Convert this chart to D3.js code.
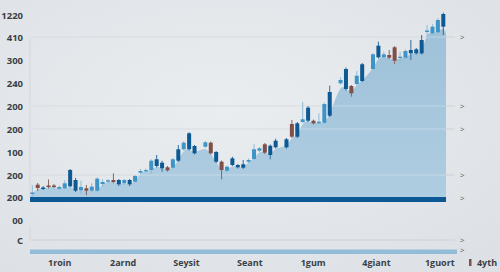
<!DOCTYPE html>
<html>
<head>
<meta charset="utf-8">
<script src="https://cdn.jsdelivr.net/npm/d3@7"></script>
<style>
  html, body { margin: 0; padding: 0; background: #e4e7ea; }
  svg { display: block; font-family: "Open Sans", "DejaVu Sans", sans-serif; }
</style>
</head>
<body>
<svg id="chart" width="500" height="272"></svg>
<script>
// Candle data (trading days, some days missing)
const days   = [0,1,2,3,4,5,6,7,8,9,10,11,12,13,14,15,16,17,18,19,20,21,22,23,24,25,26,27,28,29,30,32,33,34,35,36,37,38,39,40,41,42,43,44,45,47,48,49,50,51,52,53,54,55,57,58,59,60,61,63,64,65,66,67,68,69,70,71,72,73,74,75,76]
const opens  = [48,57.3,53,56.5,56.5,53.3,53.7,55.7,51.3,51.7,53.7,51.3,51.3,58,60.3,62,57.7,58.7,57.7,60.3,69.3,70.7,72,76,73.7,74.7,74.3,81.3,92.7,92.7,88.7,95.3,99.3,80.3,80.3,71.3,77,74.7,74.3,80.3,83,91.3,97.7,87,94.7,94.7,118,105.3,120,121.3,121.3,118.7,119.3,126.3,158.7,153,156,158,161,173,184.7,184.7,187,194.7,184,184.3,188.7,188.7,188.7,210,208.7,209.7,215.3]
const closes = [49.5,54,54.5,55,55,55,58.7,72,62,55,51.3,55.3,63.3,60,61.7,60,62,62,62,66,71,72,81.3,82.7,79.3,71.7,82.7,92.7,99.3,108.7,96,99.7,88.7,90,72,75.3,83.7,77,77.7,82,92.7,93.7,89.3,96.3,101.3,102.7,105.3,118.7,122.7,134.3,118.7,120.3,138,150,162,173,148.7,166.3,177.7,187.7,196.3,187.7,184.3,181.3,185.3,191,192,192.7,202,211.5,215.3,222,228]
const highs  = [57,59,56,62.5,58,56.5,61.7,73,64,61.3,57,58.7,64.7,62.7,63,68.7,63,63,63,67,73,73.5,82.7,87,81.3,76,84,97,101,109.7,97,101,100.5,91,81.5,76.5,85.3,78,82,83.5,98,95,99,97.5,103.3,104,122,120,140,136,122.5,128.7,139.5,156.3,164.7,174.5,157,171,179,189,200.3,190.3,192,196,190.3,192.5,202,194,207,217,217.7,223.7,229.3]
const lows   = [45,51,52,53.5,54,52,52.5,54.5,50,48,46.7,50,50,55.3,59,58.7,56,57,56,59,68,69.5,68,74.5,70.3,70.5,73,80,91.5,91.5,87.5,94,87.5,79,62.7,69.5,76,73.5,73,79,82,90,88,82.7,93.5,93.5,104,104,119,120,117.5,117.5,118,125,157.5,151.5,145.3,157,160,172,183.5,183.5,183,178,178.7,183,182,187.5,187.5,205,207.5,208.5,207]
// candle group: 0 = dark, 1 = light, 2 = falling
const groups = [1,2,0,2,2,1,1,0,0,1,2,1,1,1,1,2,0,1,0,1,1,1,1,0,0,2,1,0,1,0,0,1,2,0,2,1,0,0,0,1,1,1,2,0,0,0,2,0,1,0,2,1,1,0,1,0,2,1,0,1,0,1,2,2,1,1,0,0,0,1,1,1,0]

// area edges where it meets the frame
const areaStart = 46
const areaEnd = 209

// axis labels as printed
const yTickValues = [2,22,45,67,90,113,136,159,182,205,227]
const yTickLabels = ['C','00','200','200','100','200','200','240','300','410','1220']
const gridTicks = [205,136,113,67,2]
const xLabels = ['1roin','2arnd','Seysit','Seant','1gum','4giant','1guort']
const legendLabel = '4yth'

const candles = days.map((d, i) => ({
  day: d, open: opens[i], close: closes[i], high: highs[i], low: lows[i], grp: groups[i]
}))

const svg = d3.select('#chart')

// soft background
const defs = svg.append('defs')
const bg = defs.append('radialGradient').attr('id', 'bg')
  .attr('cx', '45%').attr('cy', '40%').attr('r', '75%')
bg.append('stop').attr('offset', '0%').attr('stop-color', '#eaedf0')
bg.append('stop').attr('offset', '100%').attr('stop-color', '#dde1e5')
const ag = defs.append('linearGradient').attr('id', 'areaFill')
  .attr('x1', 0).attr('y1', 0).attr('x2', 0).attr('y2', 1)
ag.append('stop').attr('offset', '0%').attr('stop-color', '#9ec1d9')
ag.append('stop').attr('offset', '100%').attr('stop-color', '#afcde1')
svg.append('rect').attr('width', 500).attr('height', 272).attr('fill', 'url(#bg)')

// scales
const x = d3.scaleLinear().domain([0, 76]).range([32.3, 443.3])
const y = d3.scaleLinear().domain([0, 227]).range([242, 15])
const xLab = d3.scalePoint().domain(xLabels).range([59.3, 439.3])
const color = d3.scaleOrdinal().domain([0, 1, 2]).range(['#0d5994', '#3d95c7', '#7f4f49'])
const wickColor = d3.scaleOrdinal().domain([0, 1, 2]).range(['#2f6d9f', '#8fbad6', '#8a6660'])

const left = 30
const areaRight = x(76.5)
const gridRight = 455

// gridlines below the area
svg.append('g')
  .selectAll('line')
  .data(gridTicks)
  .enter()
  .append('line')
  .attr('x1', left).attr('x2', gridRight)
  .attr('y1', (d) => y(d)).attr('y2', (d) => y(d))
  .attr('stroke', '#cdd2d7').attr('stroke-width', 1)

// frame edges
svg.append('line')
  .attr('x1', left).attr('x2', left).attr('y1', y(205)).attr('y2', y(45))
  .attr('stroke', '#d3d8dc')
svg.append('line')
  .attr('x1', left).attr('x2', left).attr('y1', y(16)).attr('y2', y(2))
  .attr('stroke', '#d3d8dc')

// area under the candles
const areaPts = [{ day: -0.4, v: areaStart }]
  .concat(candles.map((c) => ({ day: c.day, v: Math.min(c.open, c.close) })))
  .concat([{ day: 76.5, v: areaEnd }])
const area = d3.area()
  .x((d) => x(d.day))
  .y0(y(45))
  .y1((d) => y(d.v))
  .curve(d3.curveBasis)
svg.append('path')
  .datum(areaPts)
  .attr('d', area)
  .attr('fill', 'url(#areaFill)')

// gridlines shown over the area
svg.append('g')
  .selectAll('line')
  .data(gridTicks.filter((d) => d > 45))
  .enter()
  .append('line')
  .attr('x1', left).attr('x2', areaRight)
  .attr('y1', (d) => y(d)).attr('y2', (d) => y(d))
  .attr('stroke', '#ffffff').attr('stroke-opacity', 0.3)

// dark base band
svg.append('rect')
  .attr('x', left).attr('y', y(45))
  .attr('width', areaRight - left).attr('height', y(40) - y(45))
  .attr('fill', '#0c5894')

// navigator bar
svg.append('rect')
  .attr('x', left).attr('y', y(-7.5))
  .attr('width', 457 - left).attr('height', y(-12) - y(-7.5))
  .attr('fill', '#92bdd8')

// candles
const cg = svg.append('g')
  .selectAll('g')
  .data(candles)
  .enter()
  .append('g')

cg.append('line')
  .attr('x1', (d) => x(d.day)).attr('x2', (d) => x(d.day))
  .attr('y1', (d) => y(d.high)).attr('y2', (d) => y(d.low))
  .attr('stroke', (d) => wickColor(d.grp)).attr('stroke-width', 1)

cg.append('rect')
  .attr('x', (d) => x(d.day) - 2)
  .attr('y', (d) => y(Math.max(d.open, d.close)))
  .attr('width', 4)
  .attr('height', (d) => Math.max(1.2, Math.abs(y(d.open) - y(d.close))))
  .attr('fill', (d) => color(d.grp))

// y axis
const yAxis = svg.append('g')
  .attr('transform', 'translate(23,0)')
  .call(d3.axisLeft(y).tickValues(yTickValues).tickFormat((d, i) => yTickLabels[i]).tickSize(0).tickPadding(0))
yAxis.select('.domain').remove()
yAxis.selectAll('text')
  .attr('font-size', 9.5).attr('font-weight', 700).attr('fill', '#3a3f46')
  .attr('font-family', '"Open Sans", sans-serif')

// right-hand arrow marks
const marks = gridTicks.concat([44, -8])
svg.append('g')
  .selectAll('text')
  .data(marks)
  .enter()
  .append('text')
  .attr('x', 460).attr('y', (d) => y(d))
  .attr('dy', '0.35em')
  .attr('font-size', 8).attr('fill', '#4d545c')
  .text('>')

// x labels
const xAxis = svg.append('g')
  .attr('transform', 'translate(0,263)')
  .call(d3.axisBottom(xLab).tickSize(0).tickPadding(0))
xAxis.select('.domain').remove()
xAxis.selectAll('text')
  .attr('dy', '0.35em')
  .attr('font-size', 9).attr('font-weight', 700).attr('fill', '#3a3f46')
  .attr('font-family', '"Open Sans", sans-serif')

// legend
svg.append('rect')
  .attr('x', 469).attr('y', 259).attr('width', 2.5).attr('height', 7)
  .attr('fill', color(2))
svg.append('text')
  .attr('x', 487).attr('y', 263).attr('dy', '0.35em')
  .attr('text-anchor', 'middle')
  .attr('font-size', 9).attr('font-weight', 700).attr('fill', '#3a3f46')
  .text(legendLabel)
</script>
</body>
</html>
